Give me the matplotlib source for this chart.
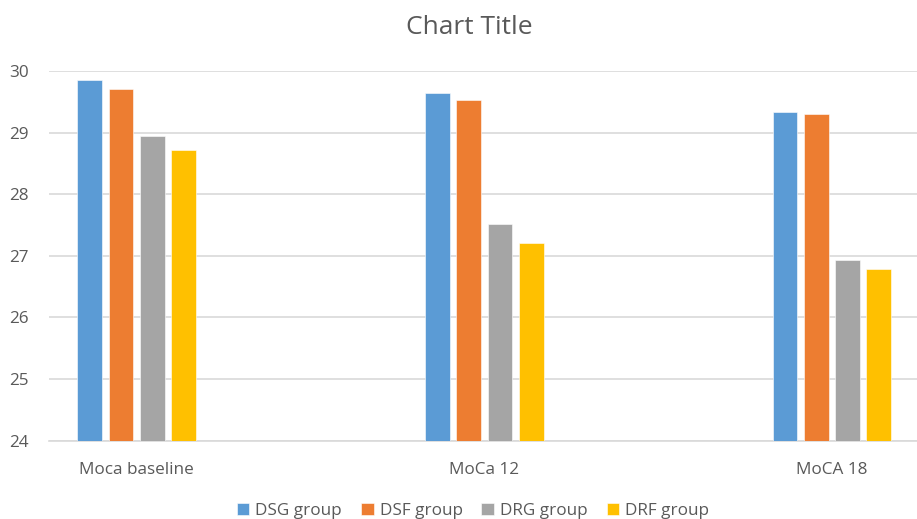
import matplotlib
matplotlib.use("Agg")
import matplotlib.pyplot as plt
import numpy as np

categories = ["Moca baseline", "MoCa 12", "MoCA 18"]
series_names = ["DSG group", "DSF group", "DRG group", "DRF group"]
dsg = [29.85, 29.64, 29.34]
dsf = [29.70, 29.53, 29.30]
drg = [28.94, 27.51, 26.93]
drf = [28.71, 27.21, 26.79]
y_ticks = [24, 25, 26, 27, 28, 29, 30]

colors = ["#5B9BD5", "#ED7D31", "#A5A5A5", "#FFC000"]
text_color = "#595959"
grid_color = "#D9D9D9"

plt.rcParams["font.family"] = ["Open Sans", "DejaVu Sans"]

fig = plt.figure(figsize=(9.17, 5.19), dpi=100)
ax = fig.add_axes([49.3 / 917, (519 - 440.7) / 519, (917 - 49.3) / 917, (440.7 - 71) / 519])

x = np.arange(len(categories))
width = 0.071
pitch = 0.090
for i, (vals, name, c) in enumerate(zip([dsg, dsf, drg, drf], series_names, colors)):
    offs = (i - 1.5) * pitch
    ax.bar(x + offs, np.array(vals) - 24, bottom=24, width=width, color=c,
           label=name, zorder=3, edgecolor="white", linewidth=0.4)

ax.set_ylim(24, 30)
ax.set_xlim(-0.2515, 2.245)
ax.set_yticks(y_ticks)
ax.set_yticklabels([str(t) for t in y_ticks], fontsize=12.3, color=text_color)
ax.set_xticks(x)
ax.set_xticklabels(categories, fontsize=12.3, color=text_color)
ax.tick_params(axis="both", length=0)
ax.tick_params(axis="y", pad=15)
ax.tick_params(axis="x", pad=15)
ax.yaxis.grid(True, color=grid_color, linewidth=1.2, zorder=0)
for s in ["top", "right", "left"]:
    ax.spines[s].set_visible(False)
ax.spines["bottom"].set_color(grid_color)
ax.spines["bottom"].set_linewidth(1.2)

fig.text(469 / 917, 1 - 27 / 519, "Chart Title", ha="center", va="center",
         fontsize=19, color=text_color)

leg = fig.legend(loc="center", bbox_to_anchor=(473 / 917, (519 - 510.7) / 519),
                 ncol=4, frameon=False, fontsize=12.3, handlelength=0.75,
                 handleheight=0.75, handletextpad=0.35, columnspacing=1.1)
for t in leg.get_texts():
    t.set_color(text_color)

fig.savefig("out.png", dpi=100)
